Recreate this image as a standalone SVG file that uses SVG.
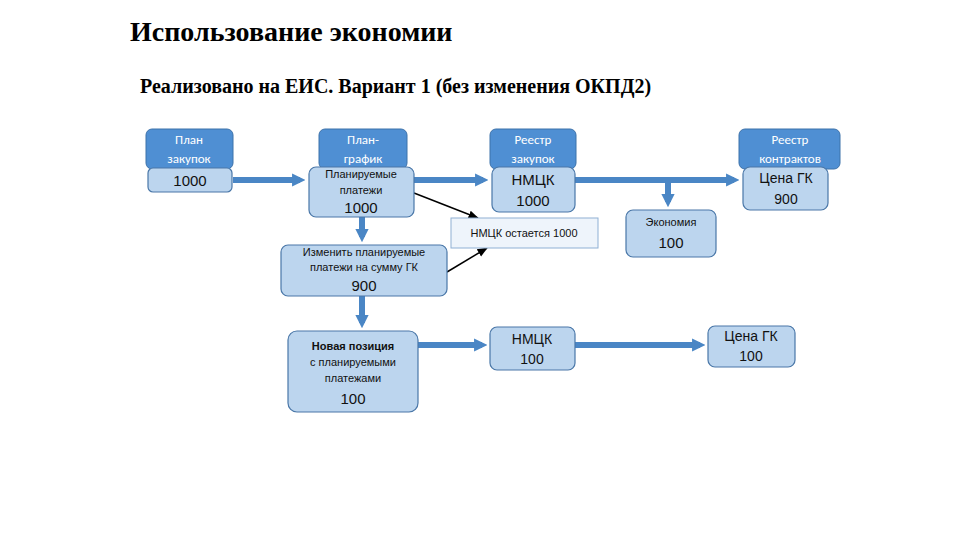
<svg xmlns="http://www.w3.org/2000/svg" width="960" height="540" viewBox="0 0 960 540">
<defs>
<style>
.hd{fill:#4f8fd3;stroke:#3d72aa;stroke-width:1}
.bx{fill:#bcd5ee;stroke:#4a77a8;stroke-width:1.2}
.lt{fill:#eef4fb;stroke:#8fb0d4;stroke-width:1}
.ht{font-family:Calibri,"Liberation Sans",sans-serif;font-size:13px;fill:#ffffff;text-anchor:middle}
.t{font-family:"Liberation Sans",sans-serif;fill:#111;text-anchor:middle}
.s{font-size:11px}.m{font-size:14px}.b{font-size:15px}
.big{stroke:#4a86c5;stroke-width:6;fill:none}
.thin{stroke:#000;stroke-width:1.5;fill:none}
</style>
<marker id="ab" viewBox="0 0 10 10" refX="6" refY="5" markerWidth="2.2" markerHeight="2.6" orient="auto"><path d="M0,0L10,5L0,10z" fill="#4a86c5"/></marker>
<marker id="ak" viewBox="0 0 10 10" refX="9" refY="5" markerWidth="7" markerHeight="7" orient="auto"><path d="M0,1L10,5L0,9z" fill="#000"/></marker>
</defs>
<text x="130" y="41" font-family="Liberation Serif,serif" font-weight="bold" font-size="28" fill="#000">Использование экономии</text>
<text x="140" y="93" font-family="Liberation Serif,serif" font-weight="bold" font-size="20" fill="#000">Реализовано на ЕИС. Вариант 1 (без изменения ОКПД2)</text>
<g id="connectors">
<line class="big" x1="233" y1="180" x2="300" y2="180" marker-end="url(#ab)"/>
<line class="big" x1="414" y1="180" x2="483" y2="180" marker-end="url(#ab)"/>
<line class="big" x1="575" y1="180" x2="734" y2="180" marker-end="url(#ab)"/>
<line class="big" x1="668" y1="180" x2="668" y2="202" marker-end="url(#ab)"/>
<line class="big" x1="362" y1="217" x2="362" y2="237" marker-end="url(#ab)"/>
<line class="big" x1="362" y1="296" x2="362" y2="323" marker-end="url(#ab)"/>
<line class="big" x1="418" y1="345" x2="482" y2="345" marker-end="url(#ab)"/>
<line class="big" x1="575" y1="345" x2="700" y2="345" marker-end="url(#ab)"/>
<line class="thin" x1="414" y1="193" x2="478" y2="218" marker-end="url(#ak)"/>
<line class="thin" x1="447" y1="272" x2="487" y2="248" marker-end="url(#ak)"/>
</g>
<g id="plan">
<rect class="hd" x="146" y="129" width="87" height="40" rx="6"/>
<text class="ht" x="189" y="144">План</text><text class="ht" x="189" y="163">закупок</text>
<rect class="bx" x="148" y="168" width="84" height="24" rx="5"/>
<text class="t b" x="190" y="186">1000</text>
</g>
<g id="grafik">
<rect class="hd" x="319" y="129" width="88" height="40" rx="6"/>
<text class="ht" x="363" y="144">План-</text><text class="ht" x="363" y="163">график</text>
<rect class="bx" x="309" y="167" width="105" height="50" rx="7"/>
<text class="t s" x="361" y="178">Планируемые</text>
<text class="t s" x="361" y="194">платежи</text>
<text class="t b" x="361" y="213">1000</text>
</g>
<g id="reestr">
<rect class="hd" x="490" y="129" width="86" height="40" rx="6"/>
<text class="ht" x="533" y="144">Реестр</text><text class="ht" x="533" y="163">закупок</text>
<rect class="bx" x="492" y="167" width="83" height="45" rx="7"/>
<text class="t b" x="533" y="185">НМЦК</text>
<text class="t b" x="533" y="206">1000</text>
</g>
<g id="kontrakty">
<rect class="hd" x="739" y="129" width="101" height="40" rx="6"/>
<text class="ht" x="790" y="144">Реестр</text><text class="ht" x="790" y="163">контрактов</text>
<rect class="bx" x="743" y="167" width="85" height="43" rx="7"/>
<text class="t m" x="786" y="183">Цена ГК</text>
<text class="t m" x="786" y="204">900</text>
</g>
<g id="ostaetsya">
<rect class="lt" x="451" y="218" width="147" height="30"/>
<text class="t s" x="524" y="237">НМЦК остается 1000</text>
</g>
<g id="ekonomiya">
<rect class="bx" x="626" y="210" width="90" height="47" rx="7"/>
<text class="t s" x="671" y="226">Экономия</text>
<text class="t b" x="671" y="248">100</text>
</g>
<g id="izmenit">
<rect class="bx" x="281" y="245" width="166" height="51" rx="7"/>
<text class="t s" x="364" y="256">Изменить планируемые</text>
<text class="t s" x="364" y="271">платежи на сумму ГК</text>
<text class="t b" x="364" y="291">900</text>
</g>
<g id="novaya">
<rect class="bx" x="288" y="331" width="130" height="81" rx="9"/>
<text class="t s" x="353" y="350" font-weight="bold">Новая позиция</text>
<text class="t s" x="353" y="366">с планируемыми</text>
<text class="t s" x="353" y="382">платежами</text>
<text class="t b" x="353" y="404">100</text>
</g>
<g id="nmck100">
<rect class="bx" x="490" y="327" width="85" height="43" rx="7"/>
<text class="t m" x="532" y="344">НМЦК</text>
<text class="t m" x="532" y="364">100</text>
</g>
<g id="cena100">
<rect class="bx" x="708" y="326" width="87" height="41" rx="7"/>
<text class="t m" x="751" y="341">Цена ГК</text>
<text class="t m" x="751" y="361">100</text>
</g>
</svg>
